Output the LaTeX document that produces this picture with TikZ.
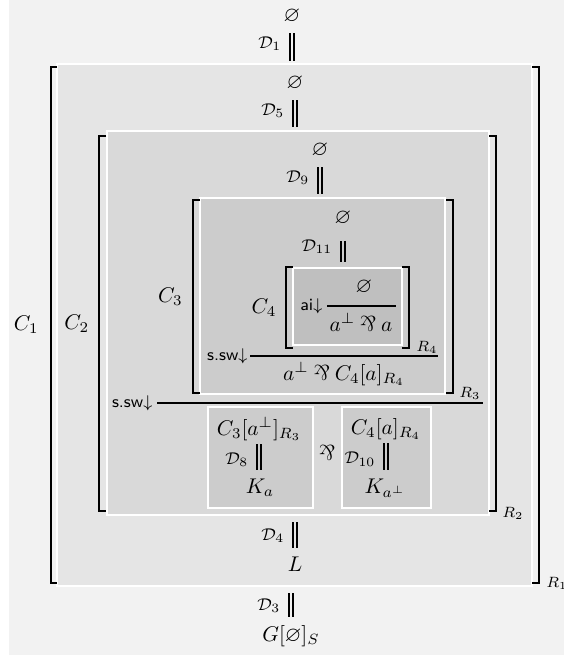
\documentclass[tikz,border=0pt]{standalone}
\usepackage{amsmath,amssymb}
\usepackage{graphicx}
\usetikzlibrary{positioning,calc}

\definecolor{paper}{HTML}{F2F2F2}
\definecolor{lvlA}{HTML}{E5E5E5}
\definecolor{lvlB}{HTML}{D9D9D9}
\definecolor{lvlC}{HTML}{CCCCCC}
\definecolor{lvlD}{HTML}{BFBFBF}

\newcommand{\lpar}{\mathbin{\rotatebox[origin=c]{180}{$\&$}}}
\newcommand{\rname}[1]{\textsf{#1}$\downarrow$}

\tikzset{
  ctxbox/.style={draw=white, line width=1pt, fill=#1},
  brk/.style={line width=0.7pt},
  eqbar/.style={double=#1, double distance=0.95pt, line width=0.9pt},
  infline/.style={line width=1pt},
  term/.style={inner sep=0pt},
  dlab/.style={font=\footnotesize, inner sep=0pt},
  rulelab/.style={font=\footnotesize, inner sep=1pt},
  ctxlab/.style={inner sep=0pt},
  reglab/.style={inner sep=0pt, anchor=base west},
}

\begin{document}
\begin{tikzpicture}[x=0.47pt,y=-0.47pt]
\useasboundingbox (0,0) rectangle (564,657);
\fill[paper] (9,0) rectangle (564,655);

\coordinate (boxA1) at (57,64);   \coordinate (boxA2) at (532,586);
\coordinate (boxB1) at (107,131); \coordinate (boxB2) at (489,515);
\coordinate (boxC1) at (200,198); \coordinate (boxC2) at (445,394);
\coordinate (boxD1) at (293,268); \coordinate (boxD2) at (402,345);
\draw[ctxbox=lvlA] (boxA1) rectangle (boxA2);
\draw[ctxbox=lvlB] (boxB1) rectangle (boxB2);
\draw[ctxbox=lvlC] (boxC1) rectangle (boxC2);
\draw[ctxbox=lvlD] (boxD1) rectangle (boxD2);
\draw[ctxbox=lvlC] (208,407) rectangle (313,508);
\draw[ctxbox=lvlC] (342,407) rectangle (431,508);

% context brackets
\draw[brk] (57,67) -- (51,67) -- (51,583) -- (57,583);
\draw[brk] (532,67) -- (539,67) -- (539,583) -- (532,583);
\draw[brk] (106,136) -- (99,136) -- (99,511) -- (106,511);
\draw[brk] (489,136) -- (496,136) -- (496,511) -- (489,511);
\draw[brk] (200,200) -- (193,200) -- (193,393) -- (200,393);
\draw[brk] (446,200) -- (453,200) -- (453,393) -- (446,393);
\draw[brk] (293,267) -- (286,267) -- (286,348) -- (293,348);
\draw[brk] (402,267) -- (409,267) -- (409,348) -- (402,348);

\coordinate (lbA) at (51,325);    \coordinate (rbA) at (539,583);
\coordinate (lbB) at (99,323.5);  \coordinate (rbB) at (496,511);
\coordinate (lbC) at (193,296.5); \coordinate (rbC) at (453,393);
\coordinate (lbD) at (286,307.5); \coordinate (rbD) at (409,348);
\node[ctxlab, left=5.6pt of lbA] (ctxA) {$C_1$};
\node[ctxlab, left=4.4pt of lbB] (ctxB) {$C_2$};
\node[ctxlab, left=4.6pt of lbC] (ctxC) {$C_3$};
\node[ctxlab, left=4.3pt of lbD] (ctxD) {$C_4$};
\node[reglab] (regA) at ($(rbA)+(7,4)$) {$\scriptstyle R_1$};
\node[reglab] (regB) at ($(rbB)+(6,6)$) {$\scriptstyle R_2$};
\node[reglab] (regC) at ($(rbC)+(6,4)$) {$\scriptstyle R_3$};
\node[reglab] (regD) at ($(rbD)+(7,3)$) {$\scriptstyle R_4$};

% empty contexts and their bars
\node[term] (emA) at (292,16) {$\varnothing$};
\node[term] (emB) at (295,83) {$\varnothing$};
\node[term] (emC) at (320,150) {$\varnothing$};
\node[term] (emD) at (343,218.5) {$\varnothing$};
\draw[eqbar=paper, shorten <=4.7pt, shorten >=1.4pt] (emA.south) -- (emA.south |- boxA1)
  node[dlab, midway, left=4.6pt] {$\mathcal{D}_1$};
\draw[eqbar=lvlA, shorten <=4.7pt, shorten >=1.9pt] (emB.south) -- (emB.south |- boxB1)
  node[dlab, midway, left=4.6pt] {$\mathcal{D}_5$};
\draw[eqbar=lvlB, shorten <=4.7pt, shorten >=1.9pt] (emC.south) -- (emC.south |- boxC1)
  node[dlab, midway, left=4.6pt] {$\mathcal{D}_9$};
\draw[eqbar=lvlC, shorten <=7pt, shorten >=2.8pt] (emD.south) -- (emD.south |- boxD1)
  node[dlab, midway, left=4.6pt] {$\mathcal{D}_{11}$};

% axiom inside C4
\node[term] (emE) at (364,287) {$\varnothing$};
\coordinate (frE1) at (327,306); \coordinate (frE2) at (396,306);
\draw[infline] (frE1) -- (frE2);
\node[rulelab, left=1pt of frE1] (aiE) {\rname{ai}};
\node[term] (prE) at (361,322) {$a^\perp \lpar a$};

% switch inside C3
\coordinate (frD1) at (250,356); \coordinate (frD2) at (438,356);
\draw[infline] (frD1) -- (frD2);
\node[rulelab, left=0pt of frD1] (sswD) {\rname{s.sw}};
\node[term] (prD) at (344,374) {$a^\perp \lpar C_4[a]_{R_4}$};

% switch inside C2
\coordinate (frB1) at (157,403); \coordinate (frB2) at (483,403);
\draw[infline] (frB1) -- (frB2);
\node[rulelab, left=1pt of frB1] (sswB) {\rname{s.sw}};

\node[term] (cxL) at (259,429) {$C_3[a^\perp]_{R_3}$};
\node[term] (kaL) at (260,487.5) {$K_a$};
\node[term] (cxR) at (386,429) {$C_4[a]_{R_4}$};
\node[term] (kaR) at (385,488) {$K_{a^\perp}$};
\node[term] (parM) at (327,453) {$\lpar$};
\draw[eqbar=lvlC, shorten <=1.4pt, shorten >=3.8pt] (cxL.south) -- (cxL.south |- kaL.north)
  node[dlab, midway, left=4.6pt] {$\mathcal{D}_8$};
\draw[eqbar=lvlC, shorten <=1.4pt, shorten >=3.8pt] (cxR.south) -- (cxR.south |- kaR.north)
  node[dlab, midway, left=4.6pt] {$\mathcal{D}_{10}$};

% outside
\node[term] (outL) at (295,564.5) {$L$};
\node[term] (outG) at (291,636) {$G[\varnothing]_S$};
\draw[eqbar=lvlA, shorten <=3.3pt, shorten >=4.2pt] (outL.north |- boxB2) -- (outL.north)
  node[dlab, midway, left=4.6pt] {$\mathcal{D}_4$};
\draw[eqbar=paper, shorten <=3.3pt, shorten >=3.8pt] (outG.north |- boxA2) -- (outG.north)
  node[dlab, midway, left=4.6pt] {$\mathcal{D}_3$};
\end{tikzpicture}
\end{document}
